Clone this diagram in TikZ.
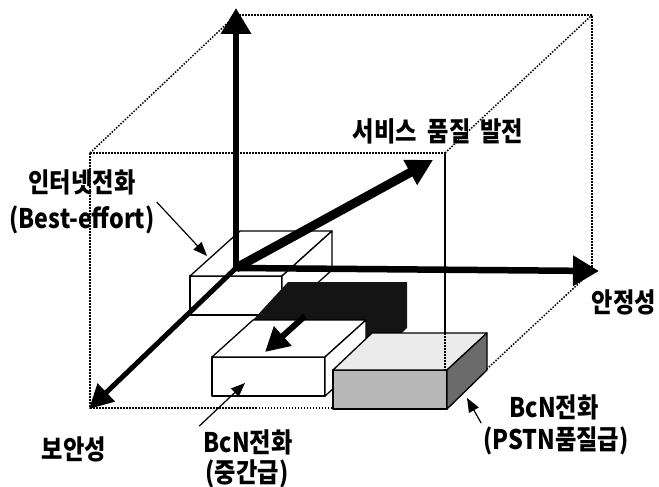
\documentclass[tikz,border=0pt]{standalone}
\usepackage{fontspec}
\setmainfont{Noto Sans CJK KR}[FakeStretch=0.86]
\usetikzlibrary{arrows.meta}
\begin{document}
\begin{tikzpicture}[x=1pt,y=-1pt,
  guide/.style={line width=1.5pt, dash pattern=on 1.5pt off 1.5pt},
  bigaxis/.style={line width=6.5pt, -{Triangle[length=26pt,width=29pt]}},
  boxedge/.style={line width=1.3pt, line join=round, draw=black},
  pointer/.style={line width=1.2pt, -{Triangle[length=14pt,width=11pt]}},
  lbl/.style={font=\fontsize{27}{32}\selectfont\bfseries, inner sep=0pt, anchor=base},
]
\useasboundingbox (0,0) rectangle (659,487);

% axis points
\coordinate (O) at (236,268);
\coordinate (Ytip) at (236,8);
\coordinate (Xtip) at (599,271);
\coordinate (Ztip) at (89,409);
\coordinate (Qtip) at (433,160);

% dotted cube
\draw[guide] (236,15) -- (592,15) -- (592,271);
\draw[guide] (90,153) -- (445,153) -- (445,408) -- (90,408) -- cycle;
\draw[guide] (90,153) -- (236,15);
\draw[guide] (445,153) -- (592,15);
\draw[guide] (445,408) -- (592,271);

% internet phone box
\filldraw[boxedge, fill=white] (190,276) -- (282,276) -- (282,315) -- (190,315) -- cycle;
\filldraw[boxedge, fill=white] (190,276) -- (240,231) -- (332,231) -- (282,276) -- cycle;
\filldraw[boxedge, fill=white] (282,276) -- (332,231) -- (332,270) -- (282,315) -- cycle;

% dark box
\fill[black!92] (253,320) -- (288,282) -- (407,282) -- (407,328) -- (365,368) -- (365,322) -- cycle;

% middle box
\filldraw[boxedge, fill=white] (212,357) -- (325,357) -- (325,396) -- (212,396) -- cycle;
\filldraw[boxedge, fill=white] (212,357) -- (253,320) -- (366,320) -- (325,357) -- cycle;
\filldraw[boxedge, fill=white] (325,357) -- (366,320) -- (366,359) -- (325,396) -- cycle;

% PSTN box
\filldraw[boxedge, fill=black!28] (333,370) -- (447,370) -- (447,409) -- (333,409) -- cycle;
\filldraw[boxedge, fill=black!8] (333,370) -- (372,333) -- (487,333) -- (447,370) -- cycle;
\filldraw[boxedge, fill=black!58] (447,370) -- (487,333) -- (487,370) -- (447,409) -- cycle;
\draw[guide] (445,153) -- (445,370);

% axes
\draw[bigaxis] (O) -- (Ytip);
\draw[bigaxis] (O) -- (Xtip);
\draw[line width=5pt, -{Triangle[length=24pt,width=24pt]}] (O) -- (Ztip);
\draw[line width=9pt, -{Triangle[length=26pt,width=27pt]}] (O) -- (Qtip);

% movement arrow
\coordinate (mvA) at (305,316);
\coordinate (mvB) at (265,352);
\draw[line width=6pt, -{Triangle[length=24pt,width=25pt]}] (mvA) -- (mvB);

% labels
\node[lbl] (qual) at (438,141) {서비스\hspace{11pt}품질\hspace{10pt}발전};
\node[lbl] (stab) at (624,312) {안정성};
\node[lbl] (sec) at (74,459) {보안성};
\node[lbl] (inet1) at (82,192) {인터넷전화};
\node[lbl] (inet2) at (82,228) {(Best-effort)};
\node[lbl] (mid1) at (248,452) {BcN전화};
\node[lbl] (mid2) at (247,482) {(중간급)};
\node[lbl] (pst1) at (554,417) {BcN전화};
\node[lbl] (pst2) at (556,449) {(PSTN품질급)};

% pointers
\coordinate (t1) at (207,256);
\coordinate (t2) at (245,383);
\coordinate (t3) at (467,398);
\draw[pointer] ([shift={(2,-3)}]inet2.north east) -- (t1);
\draw[pointer] ([shift={(-4,-3)}]mid1.north west) -- (t2);
\draw[pointer] ([shift={(-2,-3)}]pst2.north west) -- (t3);
\end{tikzpicture}
\end{document}
